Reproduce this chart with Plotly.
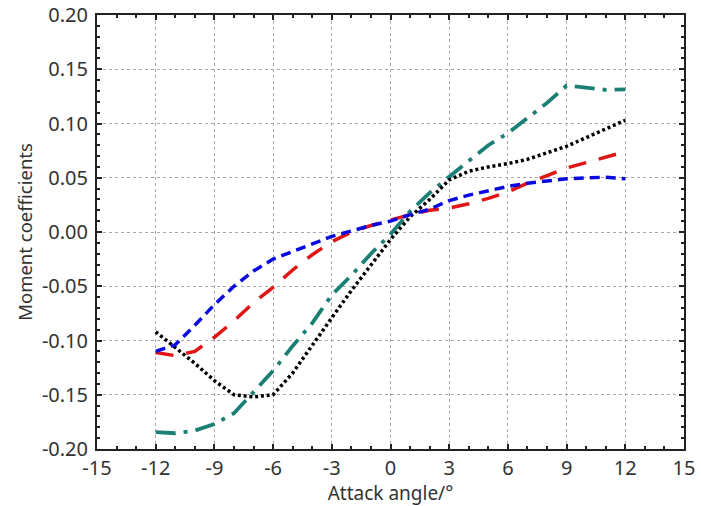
import plotly.graph_objects as go

angles = [-12, -11, -10, -9, -8, -7, -6, -5, -4, -3, -2, -1, 0, 1, 2, 3, 4, 5, 6, 7, 8, 9, 10, 11, 12]

blue_vals = [-0.110, -0.104, -0.086, -0.067, -0.050, -0.036, -0.025, -0.018, -0.011, -0.004,
             0.001, 0.006, 0.010, 0.016, 0.021, 0.029, 0.034, 0.038, 0.042, 0.045,
             0.047, 0.049, 0.050, 0.0505, 0.049]
red_vals = [-0.111, -0.114, -0.110, -0.097, -0.082, -0.065, -0.051, -0.035, -0.021, -0.009,
            0.000, 0.006, 0.011, 0.016, 0.020, 0.022, 0.026, 0.031, 0.037, 0.045,
            0.052, 0.059, 0.064, 0.069, 0.074]
black_vals = [-0.092, -0.106, -0.121, -0.137, -0.150, -0.152, -0.150, -0.130, -0.104, -0.079,
              -0.054, -0.031, -0.007, 0.014, 0.030, 0.048, 0.056, 0.060, 0.063, 0.067,
              0.073, 0.079, 0.087, 0.095, 0.103]
teal_vals = [-0.1845, -0.1855, -0.183, -0.177, -0.167, -0.148, -0.128, -0.105, -0.084, -0.058,
             -0.040, -0.020, -0.002, 0.019, 0.036, 0.051, 0.066, 0.080, 0.091, 0.105,
             0.119, 0.135, 0.133, 0.131, 0.1315]

x_ticks = list(range(-15, 16, 3))
y_ticks = [-0.20, -0.15, -0.10, -0.05, 0.00, 0.05, 0.10, 0.15, 0.20]
y_tick_text = [f"{v:.2f}" for v in y_ticks]

fig = go.Figure()
fig.add_trace(go.Scatter(x=angles, y=teal_vals, mode="lines",
                         line=dict(color="#1b7f76", width=3.8, dash="20px,8px,4px,8px")))
fig.add_trace(go.Scatter(x=angles, y=black_vals, mode="lines",
                         line=dict(color="black", width=3.5, dash="3px,2.8px")))
fig.add_trace(go.Scatter(x=angles, y=red_vals, mode="lines",
                         line=dict(color="#e01515", width=3.5, dash="18px,13px")))
fig.add_trace(go.Scatter(x=angles, y=blue_vals, mode="lines",
                         line=dict(color="#0a0ae0", width=3.5, dash="10px,6px")))

font_family = "Noto Sans"
axis_common = dict(
    showline=True, linecolor="#222", linewidth=2, mirror="ticks",
    ticks="inside", ticklen=5, tickwidth=1.5, tickcolor="#222",
    showgrid=True, gridcolor="#aaaaaa", gridwidth=1, griddash="3px,3px",
    zeroline=False, automargin=False,
    tickfont=dict(family=font_family, size=20, color="#333"),
)

fig.update_xaxes(
    range=[-15, 15], tickvals=x_ticks, ticktext=[str(v) for v in x_ticks],
    minor=dict(dtick=1, ticks="inside", ticklen=3, tickcolor="#222", showgrid=False),
    ticklabelstandoff=0,
    title=dict(text="Attack angle/°", font=dict(family=font_family, size=19, color="#333"), standoff=0),
    **axis_common,
)
fig.update_yaxes(
    range=[-0.20, 0.20], tickvals=y_ticks, ticktext=y_tick_text,
    minor=dict(dtick=0.01, ticks="inside", ticklen=3, tickcolor="#222", showgrid=False),
    ticklabelstandoff=3,
    title=dict(text="Moment coefficients", font=dict(family=font_family, size=18.5, color="#333"), standoff=4),
    **axis_common,
)

fig.update_layout(
    width=701, height=506,
    margin=dict(l=97, r=17, t=15, b=57),
    plot_bgcolor="white", paper_bgcolor="white",
    showlegend=False,
)

# remove the default 8px page margin so the figure sits at the window's top-left corner
fig.write_html("out.html", config={"displayModeBar": False},
               post_script="document.body.style.margin='0';")
